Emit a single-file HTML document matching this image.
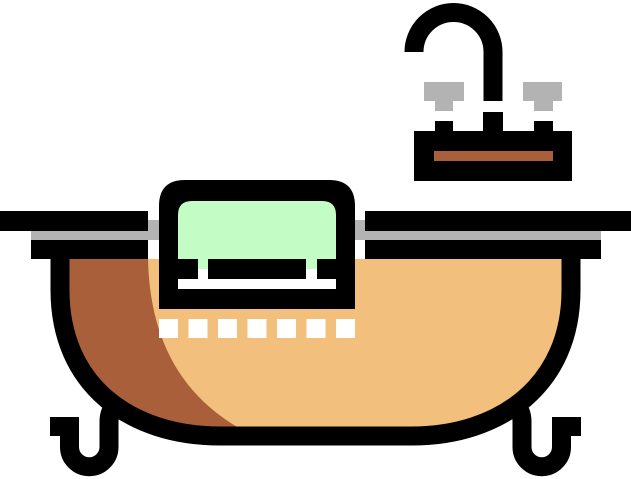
<!DOCTYPE html>
<html><head><style>html,body{margin:0;padding:0;background:#fff}svg{display:block}</style></head>
<body>
<svg width="631" height="479" viewBox="0 0 631 479" xmlns="http://www.w3.org/2000/svg">
<path d="M414,52 A39.5,39.5 0 0 1 493,52 V101" fill="none" stroke="#000" stroke-width="19"/>
<rect x="424" y="82" width="40" height="19" fill="#B3B3B3"/>
<rect x="435" y="101" width="18" height="10" fill="#B3B3B3"/>
<rect x="523" y="82" width="39" height="19" fill="#B3B3B3"/>
<rect x="534" y="101" width="19" height="10" fill="#B3B3B3"/>
<rect x="435" y="121" width="18" height="12" fill="#000"/>
<rect x="483" y="112" width="20" height="21" fill="#000"/>
<rect x="534" y="121" width="19" height="12" fill="#000"/>
<rect x="414" y="131" width="158" height="50" fill="#000"/>
<rect x="434" y="151" width="119" height="10" fill="#A9603A"/>
<path d="M60,259 V290 C60,385 130,436 220,436 H412 C500,436 571,385 571,290 V259 Z" fill="#F2BF7C"/>
<path d="M60,259 V290 C60,385 130,436 220,436 H254 C190,405 150,350 148,259 Z" fill="#A9603A"/>
<path d="M60,259 V290 C60,385 130,436 220,436 H412 C500,436 571,385 571,290 V259" fill="none" stroke="#000" stroke-width="19"/>
<rect x="50" y="417" width="29" height="19" fill="#000"/>
<path d="M69.5,430 V447 A19.75,19.75 0 0 0 109,447 V422 C109,414 111,410 116,404" fill="none" stroke="#000" stroke-width="19"/>
<rect x="552" y="417" width="29" height="19" fill="#000"/>
<path d="M561.5,430 V447 A19.75,19.75 0 0 1 522,447 V422 C522,414 520,410 515,404" fill="none" stroke="#000" stroke-width="19"/>
<rect x="31" y="220" width="570" height="20" fill="#B3B3B3"/>
<rect x="0" y="211" width="148" height="20" fill="#000"/>
<rect x="365" y="211" width="266" height="20" fill="#000"/>
<rect x="31" y="240" width="117" height="19" fill="#000"/>
<rect x="365" y="240" width="236" height="19" fill="#000"/>
<path d="M159,309 V206 Q159,180 185,180 H329 Q355,180 355,206 V309 Z" fill="#000"/>
<path d="M178,269 V215 Q178,201 192,201 H322 Q336,201 336,215 V269 Z" fill="#C4FCC6"/>
<rect x="178" y="259" width="20" height="20" fill="#000"/>
<rect x="208" y="259" width="98" height="20" fill="#000"/>
<rect x="317" y="259" width="19" height="20" fill="#000"/>
<rect x="198" y="269" width="10" height="10" fill="#fff"/>
<rect x="306" y="269" width="11" height="10" fill="#fff"/>
<rect x="178" y="279" width="158" height="10" fill="#fff"/>
<g fill="#fff">
<rect x="159" y="319" width="19" height="19"/>
<rect x="188.5" y="319" width="19" height="19"/>
<rect x="218" y="319" width="19" height="19"/>
<rect x="247.5" y="319" width="19" height="19"/>
<rect x="277" y="319" width="19" height="19"/>
<rect x="306.5" y="319" width="19" height="19"/>
<rect x="336" y="319" width="19" height="19"/>
</g>
</svg>
</body></html>
